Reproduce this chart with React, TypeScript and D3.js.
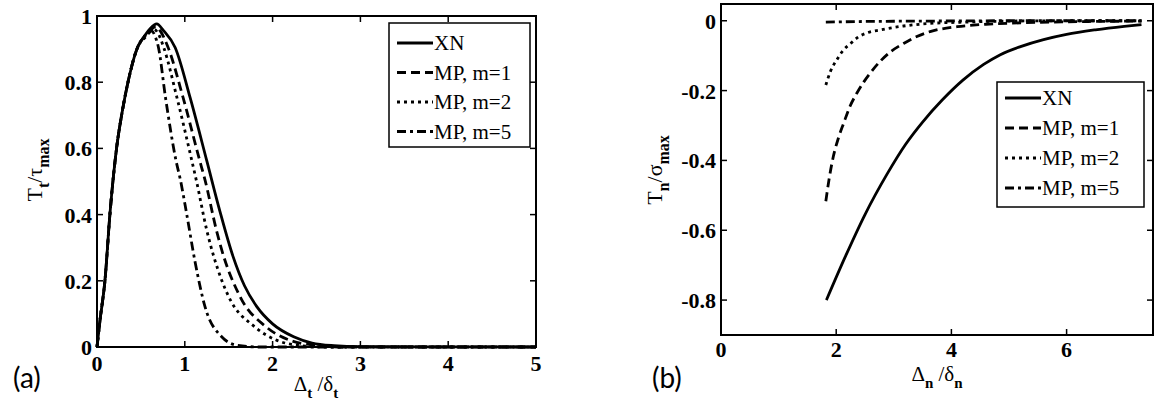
import React from "react";
import * as d3 from "d3";

const W = 1163;
const H = 414;

// ---- Panel (a): tangential traction T_t / tau_max vs. Delta_t / delta_t ----
const aXnX = [0, 0.034, 0.091, 0.148, 0.224, 0.29, 0.357, 0.47, 0.53, 0.6, 0.68, 0.76, 0.89, 1.06, 1.25, 1.4, 1.55, 1.68, 1.82, 2.0, 2.24, 2.45, 2.7, 3.0, 5.0];
const aXnY = [0, 0.08, 0.202, 0.404, 0.603, 0.715, 0.805, 0.91, 0.935, 0.96, 0.976, 0.955, 0.905, 0.754, 0.563, 0.41, 0.273, 0.185, 0.122, 0.07, 0.031, 0.012, 0.004, 0.001, 0];

const aM1X = [0, 0.034, 0.091, 0.148, 0.224, 0.29, 0.357, 0.47, 0.53, 0.6, 0.67, 0.72, 0.81, 0.98, 1.17, 1.23, 1.36, 1.41, 1.63, 1.93, 2.2, 2.5, 2.8, 5.0];
const aM1Y = [0, 0.08, 0.202, 0.404, 0.603, 0.715, 0.805, 0.91, 0.935, 0.955, 0.968, 0.955, 0.905, 0.754, 0.563, 0.505, 0.353, 0.303, 0.152, 0.06, 0.02, 0.005, 0, 0];

const aM2X = [0, 0.034, 0.091, 0.148, 0.224, 0.29, 0.357, 0.47, 0.53, 0.59, 0.65, 0.69, 0.76, 0.91, 1.08, 1.13, 1.25, 1.42, 1.5, 1.8, 2.05, 2.3, 2.6, 5.0];
const aM2Y = [0, 0.08, 0.202, 0.404, 0.603, 0.715, 0.805, 0.91, 0.935, 0.95, 0.96, 0.95, 0.905, 0.754, 0.563, 0.505, 0.353, 0.202, 0.152, 0.06, 0.02, 0.005, 0, 0];

const aM5X = [0, 0.034, 0.091, 0.148, 0.224, 0.29, 0.357, 0.47, 0.53, 0.58, 0.62, 0.66, 0.7, 0.78, 0.9, 0.95, 1.02, 1.12, 1.23, 1.42, 1.6, 1.85, 5.0];
const aM5Y = [0, 0.08, 0.202, 0.404, 0.603, 0.715, 0.805, 0.91, 0.93, 0.945, 0.955, 0.94, 0.905, 0.754, 0.563, 0.505, 0.404, 0.253, 0.122, 0.031, 0.005, 0, 0];

const aXTicks = [0, 1, 2, 3, 4, 5];
const aYTicks = [0, 0.2, 0.4, 0.6, 0.8, 1];

// ---- Panel (b): normal traction T_n / sigma_max vs. Delta_n / delta_n ----
const bXnX = [1.83, 2.16, 2.5, 2.88, 3.2, 3.5, 3.84, 4.2, 4.56, 4.85, 5.2, 5.6, 6.0, 6.5, 7.0, 7.3];
const bXnY = [-0.8, -0.675, -0.555, -0.44, -0.355, -0.29, -0.227, -0.17, -0.125, -0.097, -0.074, -0.054, -0.039, -0.026, -0.016, -0.011];

const bM1X = [1.82, 1.88, 1.95, 2.04, 2.13, 2.24, 2.36, 2.48, 2.59, 2.77, 2.95, 3.17, 3.4, 3.63, 4.1, 4.6, 5.2, 6.0, 7.3];
const bM1Y = [-0.517, -0.45, -0.389, -0.335, -0.293, -0.245, -0.207, -0.175, -0.15, -0.115, -0.088, -0.065, -0.045, -0.031, -0.017, -0.01, -0.006, -0.003, -0.001];

const bM2X = [1.82, 1.9, 2.01, 2.12, 2.25, 2.38, 2.53, 2.77, 3.17, 3.6, 4.2, 5.0, 6.0, 7.3];
const bM2Y = [-0.184, -0.145, -0.112, -0.085, -0.065, -0.047, -0.035, -0.026, -0.015, -0.008, -0.004, -0.001, 0, 0];

const bM5X = [1.82, 2.5, 3.5, 5.0, 7.3];
const bM5Y = [-0.004, -0.002, -0.001, 0, 0];

const bXTicks = [0, 2, 4, 6];
const bYTicks = [-0.8, -0.6, -0.4, -0.2, 0];

const legendNames = ["XN", "MP, m=1", "MP, m=2", "MP, m=5"];

type Dash = "solid" | "dashed" | "dotted" | "dashdot";
const dashArrays: Record<Dash, string | undefined> = {
  solid: undefined,
  dashed: "9,5",
  dotted: "3,4",
  dashdot: "9,4,3,4",
};
const styles: Dash[] = ["solid", "dashed", "dotted", "dashdot"];

const zip = (xs: number[], ys: number[]) => xs.map((x, i) => [x, ys[i]] as [number, number]);

const seriesA = [zip(aXnX, aXnY), zip(aM1X, aM1Y), zip(aM2X, aM2Y), zip(aM5X, aM5Y)];
const seriesB = [zip(bXnX, bXnY), zip(bM1X, bM1Y), zip(bM2X, bM2Y), zip(bM5X, bM5Y)];

const SERIF = "'Liberation Serif', 'Times New Roman', serif";

interface PanelProps {
  box: { x0: number; y0: number; x1: number; y1: number };
  xDomain: [number, number];
  yDomain: [number, number];
  xTicks: number[];
  yTicks: number[];
  series: [number, number][][];
  legend: { x: number; y: number; w: number; h: number; first: number; step: number };
  xTickBaseline: number;
}

function Panel({ box, xDomain, yDomain, xTicks, yTicks, series, legend, xTickBaseline }: PanelProps) {
  const x = d3.scaleLinear().domain(xDomain).range([box.x0, box.x1]);
  const y = d3.scaleLinear().domain(yDomain).range([box.y1, box.y0]);
  const line = d3
    .line<[number, number]>()
    .x((d) => x(d[0]))
    .y((d) => y(d[1]))
    .curve(d3.curveMonotoneX);
  const tick = 6;
  const fmt = (v: number) => String(+v.toFixed(1));
  return (
    <g>
      {series.map((s, i) => (
        <path
          key={i}
          d={line(s) ?? ""}
          fill="none"
          stroke="#000"
          strokeWidth={2.8}
          strokeDasharray={dashArrays[styles[i]]}
        />
      ))}
      <rect
        x={box.x0}
        y={box.y0}
        width={box.x1 - box.x0}
        height={box.y1 - box.y0}
        fill="none"
        stroke="#000"
        strokeWidth={2}
      />
      {xTicks.map((t) => (
        <g key={"x" + t}>
          <line x1={x(t)} x2={x(t)} y1={box.y1} y2={box.y1 - tick} stroke="#000" strokeWidth={1.5} />
          <line x1={x(t)} x2={x(t)} y1={box.y0} y2={box.y0 + tick} stroke="#000" strokeWidth={1.5} />
          <text
            x={x(t)}
            y={xTickBaseline}
            textAnchor="middle"
            fontFamily={SERIF}
            fontWeight="bold"
            fontSize={22}
          >
            {fmt(t)}
          </text>
        </g>
      ))}
      {yTicks.map((t) => (
        <g key={"y" + t}>
          <line x1={box.x0} x2={box.x0 + tick} y1={y(t)} y2={y(t)} stroke="#000" strokeWidth={1.5} />
          <line x1={box.x1} x2={box.x1 - tick} y1={y(t)} y2={y(t)} stroke="#000" strokeWidth={1.5} />
          <text
            x={box.x0 - 5}
            y={y(t) + 8}
            textAnchor="end"
            fontFamily={SERIF}
            fontWeight="bold"
            fontSize={22}
          >
            {fmt(t)}
          </text>
        </g>
      ))}
      <rect
        x={legend.x}
        y={legend.y}
        width={legend.w}
        height={legend.h}
        fill="#fff"
        stroke="#000"
        strokeWidth={1.5}
      />
      {legendNames.map((name, i) => {
        const cy = legend.y + legend.first + i * legend.step;
        return (
          <g key={name}>
            <line
              x1={legend.x + 8}
              x2={legend.x + 44}
              y1={cy}
              y2={cy}
              stroke="#000"
              strokeWidth={2.8}
              strokeDasharray={dashArrays[styles[i]]}
            />
            <text x={legend.x + 45} y={cy + 7} fontFamily={SERIF} fontSize={21}>
              {name}
            </text>
          </g>
        );
      })}
    </g>
  );
}

export default function App() {
  return (
    <svg
      width={W}
      height={H}
      viewBox={`0 0 ${W} ${H}`}
      style={{ position: "absolute", left: 0, top: 0, background: "#fff" }}
    >
      <rect width={W} height={H} fill="#fff" />
      <Panel
        box={{ x0: 97, y0: 16, x1: 536, y1: 347 }}
        xDomain={[0, 5]}
        yDomain={[0, 1]}
        xTicks={aXTicks}
        yTicks={aYTicks}
        series={seriesA}
        legend={{ x: 389, y: 23, w: 141, h: 124, first: 20, step: 29.5 }}
        xTickBaseline={371}
      />
      <Panel
        box={{ x0: 721, y0: 4, x1: 1153, y1: 335 }}
        xDomain={[0, 7.5]}
        yDomain={[-0.9, 0.048]}
        xTicks={bXTicks}
        yTicks={bYTicks}
        series={seriesB}
        legend={{ x: 997, y: 82, w: 147, h: 125, first: 16, step: 30 }}
        xTickBaseline={357}
      />

      {/* axis titles, panel (a) */}
      <text x={316} y={391} textAnchor="middle" fontFamily={SERIF} fontSize={21}>
        Δ<tspan dy={7} fontSize={15} fontWeight="bold">t</tspan>
        <tspan dy={-7}> /δ</tspan>
        <tspan dy={7} fontSize={15} fontWeight="bold">t</tspan>
      </text>
      <text
        transform="translate(42,170) rotate(-90)"
        textAnchor="middle"
        fontFamily={SERIF}
        fontSize={22}
      >
        T<tspan dy={7} fontSize={16} fontWeight="bold">t</tspan>
        <tspan dy={-7}>/τ</tspan>
        <tspan dy={7} fontSize={16} fontWeight="bold">max</tspan>
      </text>

      {/* axis titles, panel (b) */}
      <text x={937} y={381} textAnchor="middle" fontFamily={SERIF} fontSize={21}>
        Δ<tspan dy={7} fontSize={15} fontWeight="bold">n</tspan>
        <tspan dy={-7}> /δ</tspan>
        <tspan dy={7} fontSize={15} fontWeight="bold">n</tspan>
      </text>
      <text
        transform="translate(662,170) rotate(-90)"
        textAnchor="middle"
        fontFamily={SERIF}
        fontSize={22}
      >
        T<tspan dy={7} fontSize={16} fontWeight="bold">n</tspan>
        <tspan dy={-7}>/σ</tspan>
        <tspan dy={7} fontSize={16} fontWeight="bold">max</tspan>
      </text>

      {/* panel tags */}
      <text x={13} y={388} fontFamily="Lato, 'Open Sans', sans-serif" fontSize={28}>
        (a)
      </text>
      <text x={652} y={388} fontFamily="Lato, 'Open Sans', sans-serif" fontSize={28}>
        (b)
      </text>
    </svg>
  );
}
